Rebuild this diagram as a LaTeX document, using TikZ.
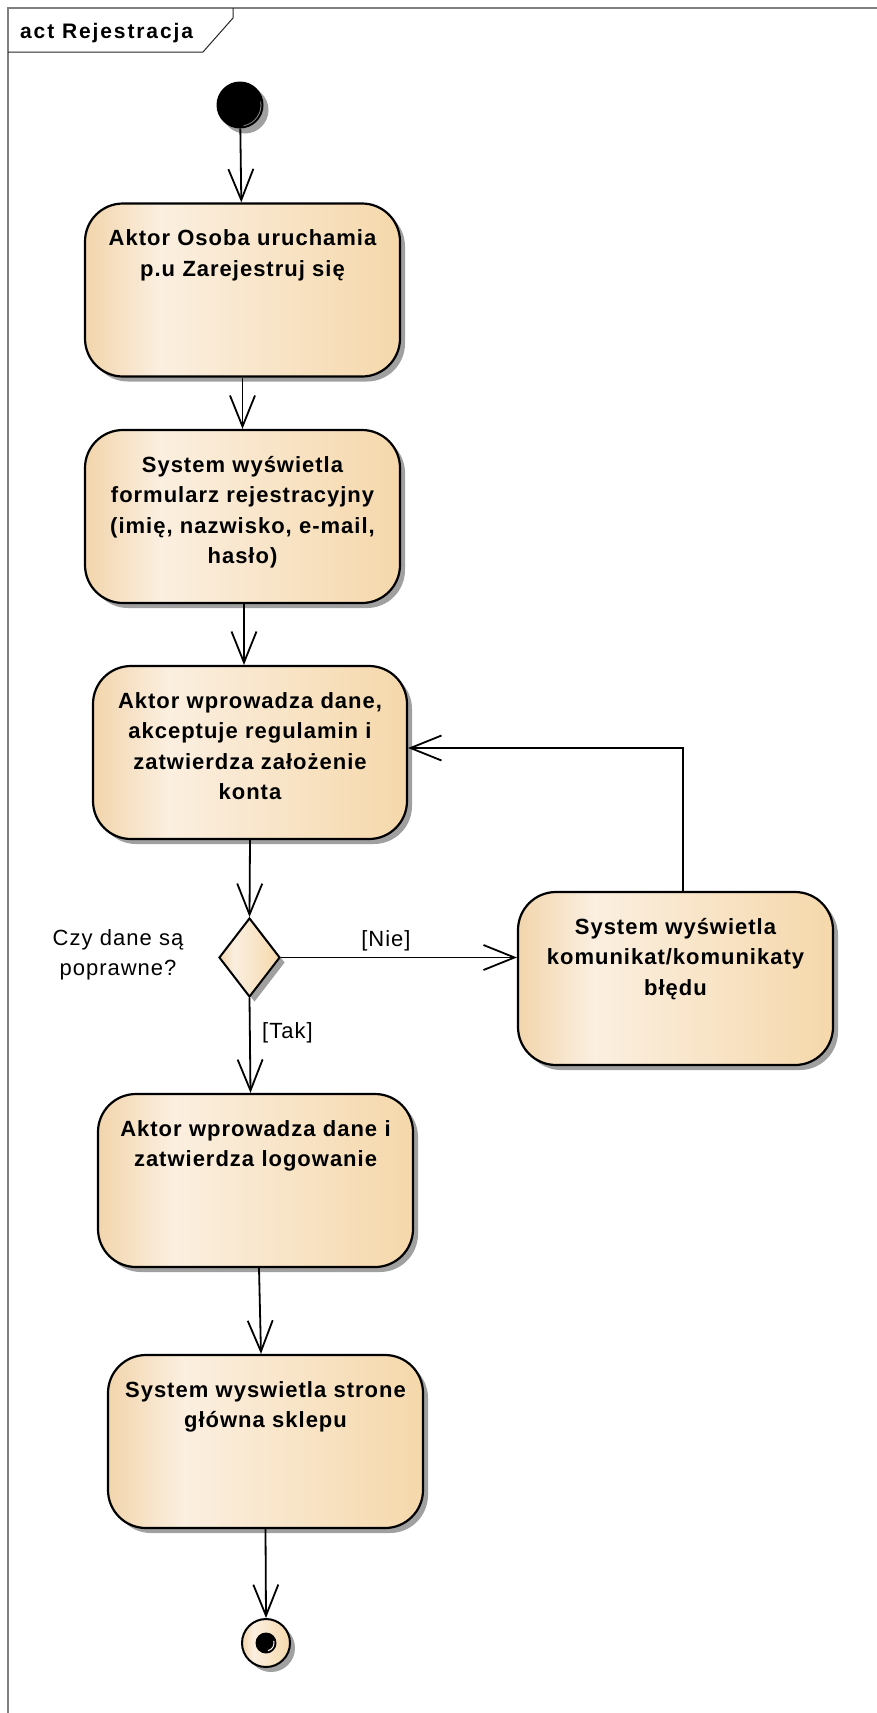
\documentclass[tikz,border=0pt]{standalone}
\usepackage{fontspec}
\setmainfont{Liberation Sans}[LetterSpace=4.5]
\usetikzlibrary{arrows.meta,shadows,shapes.geometric}

\definecolor{eaL}{HTML}{F2D5AC}
\definecolor{eaM}{HTML}{FBEFE0}
\definecolor{eaR}{HTML}{F5D8AB}
\definecolor{frameGray}{HTML}{808080}
\definecolor{shadowGray}{HTML}{A0A0A0}

% left-to-right activity fill: tan, light, tan
\pgfdeclarehorizontalshading{eafill}{100bp}{color(0bp)=(eaL); color(25bp)=(eaL); color(37bp)=(eaM); color(75bp)=(eaR); color(100bp)=(eaR)}

\tikzset{
  eashadow/.style={drop shadow={shadow xshift=5pt, shadow yshift=-5pt, fill=shadowGray, opacity=1}},
  actbox/.style={draw=black, line width=2.2pt, rounded corners=38pt, shading=eafill,
    minimum width=315pt, minimum height=173pt, inner sep=0pt, eashadow},
  acttext/.style={anchor=base, text width=315pt, align=center, inner sep=0pt,
    font=\bfseries\fontsize{22}{30.5}\selectfont},
  decision/.style={diamond, draw=black, line width=2pt, shading=eafill,
    minimum width=61pt, minimum height=79pt, inner sep=0pt, eashadow},
  flow/.style={line width=1.8pt, -{Straight Barb[length=31pt,width=25pt,line width=1.8pt]}},
  guard/.style={inner sep=0pt, font=\fontsize{22}{30}\selectfont},
}

\begin{document}
\begin{tikzpicture}[x=1pt,y=-1pt]
\useasboundingbox (0,0) rectangle (877,1713);

% diagram frame and its name tag
\draw[frameGray, line width=1.6pt] (8,1713) -- (8,8) -- (877,8);
\draw[black!85, line width=1pt] (8,52) -- (203,52) -- (233,18) -- (233,8);
\node[anchor=base west, inner sep=0pt, font={\bfseries\fontsize{21}{21}\selectfont\addfontfeature{LetterSpace=9}}] (title) at (20,38) {act Rejestracja};

% initial node
\node[circle, fill=black, minimum size=47pt, inner sep=0pt, eashadow] (start) at (240,105) {};
\draw[black!45, line width=0.8pt] (start.center) ++(-80:21pt) arc[start angle=-80, end angle=10, radius=21pt];

% actions
\node[actbox] (b1) at (242.5,290) {};
\node[acttext] (t1) at ([yshift=-43.5pt]b1.north) {Aktor Osoba uruchamia\\p.u Zarejestruj się};

\node[actbox] (b2) at (242.5,516.5) {};
\node[acttext] (t2) at ([yshift=-43.5pt]b2.north) {System wyświetla\\formularz rejestracyjny\\(imię, nazwisko, e-mail,\\hasło)};

\node[actbox, minimum width=314pt] (b3) at (250,752.5) {};
\node[acttext] (t3) at ([yshift=-43.5pt]b3.north) {Aktor wprowadza dane,\\akceptuje regulamin i\\zatwierdza założenie\\konta};

\node[decision] (dec) at (249.5,957.5) {};

\node[actbox] (rb) at (675.5,978.5) {};
\node[acttext] (trb) at ([yshift=-43.5pt]rb.north) {System wyświetla\\komunikat/komunikaty\\błędu};

\node[actbox] (b4) at (255.5,1180.5) {};
\node[acttext] (t4) at ([yshift=-43.5pt]b4.north) {Aktor wprowadza dane i\\zatwierdza logowanie};

\node[actbox] (b5) at (265.5,1441.5) {};
\node[acttext] (t5) at ([yshift=-43.5pt]b5.north) {System wyswietla strone\\główna sklepu};

% final node
\node[circle, draw=black, line width=2pt, shading=eafill, minimum size=48pt, inner sep=0pt, eashadow] (end) at (266,1643) {};
\node[circle, fill=black, minimum size=21pt, inner sep=0pt] (endc) at (end.center) {};
\draw[white!85!eaL, line width=1pt] (endc.center) ++(-75:8pt) arc[start angle=-75, end angle=15, radius=8pt];

% guard and decision texts
\node[guard, anchor=base, text width=160pt, align=center] (q) at (118,945) {Czy dane są\\poprawne?};
\node[guard, anchor=base] (nie) at (386,946) {[Nie]};
\node[guard, anchor=base west] (tak) at (262,1038) {[Tak]};

% control flows
\draw[flow] (start) -- (b1);
\draw[flow] (b1) -- (b2);
\draw[flow] ([xshift=1.5pt]b2.south) -- ([xshift=-6pt]b3.north);
\draw[flow] (b3.south) -- (dec.north);
\draw[flow] (dec.east) -- (dec.east -| rb.west);
\draw[flow] (dec.south) -- ([xshift=-5pt]b4.north);
\draw[flow] ([xshift=7.5pt]rb.north) |- ([yshift=4.5pt]b3.east);
\draw[flow] ([xshift=3.5pt]b4.south) -- ([xshift=-4.5pt]b5.north);
\draw[flow] (b5.south) -- (end.north);
\end{tikzpicture}
\end{document}
